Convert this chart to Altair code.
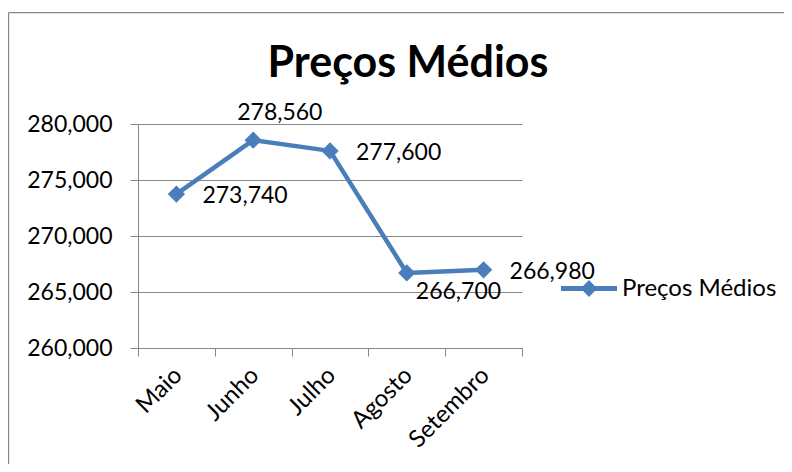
import altair as alt
import pandas as pd

months = ["Maio", "Junho", "Julho", "Agosto", "Setembro"]
values = [273740, 278560, 277600, 266700, 266980]
series_name = "Preços Médios"
title_text = "Preços Médios"
y_ticks = [260000, 265000, 270000, 275000, 280000]

BLUE = "#4A7EBB"
GREY = "#868686"
FONT = "Lato"

df = pd.DataFrame({"mes": months, "valor": values, "serie": [series_name] * len(months)})

x_enc = alt.X(
    "mes:N",
    sort=months,
    scale=alt.Scale(type="band", paddingInner=0, paddingOuter=0),
    axis=alt.Axis(
        title=None, labelAngle=-45, labelFont=FONT, labelFontSize=24, labelColor="black",
        tickBand="extent", tickSize=8, tickColor=GREY, domainColor=GREY, grid=False,
        labelPadding=7, labelOffset=-7,
    ),
)
y_enc = alt.Y(
    "valor:Q",
    scale=alt.Scale(domain=[260000, 280000], nice=False, zero=False),
    axis=alt.Axis(
        title=None, values=y_ticks, format=",d", labelFont=FONT, labelFontSize=23,
        labelColor="black", labelPadding=18, tickSize=8, tickColor=GREY,
        domainColor=GREY, gridColor=GREY, grid=True,
    ),
)

base = alt.Chart(df).encode(x=x_enc, y=y_enc)

line = base.mark_line(color=BLUE, strokeWidth=4.5, strokeJoin="round")

legend_path = ("M-1,-0.09L-0.21,-0.09L0,-0.3L0.21,-0.09L1,-0.09L1,0.09L0.21,0.09"
               "L0,0.3L-0.21,0.09L-1,0.09Z")
points = base.mark_point(shape="diamond", filled=True, size=300, opacity=1).encode(
    color=alt.Color(
        "serie:N",
        scale=alt.Scale(range=[BLUE]),
        legend=alt.Legend(
            title=None, orient="none", legendX=423, legendY=136.5, padding=0,
            symbolType=legend_path, symbolSize=3136, symbolStrokeWidth=0,
            symbolOpacity=1, labelFont=FONT, labelFontSize=24, labelColor="black",
            labelOffset=5, labelLimit=400,
        ),
    )
)

lbl_kw = dict(font=FONT, fontSize=23, color="black", align="left", baseline="middle")
txt = alt.Text("valor:Q", format=",d")
labels_right = base.mark_text(dx=26, dy=2, **lbl_kw).encode(text=txt).transform_filter(
    alt.FieldOneOfPredicate(field="mes", oneOf=["Maio", "Julho", "Setembro"])
)
labels_above = base.mark_text(dx=-16, dy=-27, **lbl_kw).encode(text=txt).transform_filter(
    alt.FieldEqualPredicate(field="mes", equal="Junho")
)
labels_below = base.mark_text(dx=9, dy=19, **lbl_kw).encode(text=txt).transform_filter(
    alt.FieldEqualPredicate(field="mes", equal="Agosto")
)

deco = pd.DataFrame({"t": [title_text]})
title = alt.Chart(deco).mark_text(
    font=FONT, fontSize=43, fontWeight="bold", color="black", align="center",
    baseline="alphabetic",
).encode(x=alt.value(270), y=alt.value(-47), text="t:N")

border_left = alt.Chart(deco).mark_rule(color=GREY, strokeWidth=1.3).encode(
    x=alt.value(-129.5), y=alt.value(-111.3), y2=alt.value(360)
)
border_top = alt.Chart(deco).mark_rule(color=GREY, strokeWidth=1.3).encode(
    x=alt.value(-129.5), x2=alt.value(700), y=alt.value(-111.3)
)

chart = alt.layer(
    border_left, border_top, title, line, points, labels_right, labels_above, labels_below
).properties(
    width=384, height=224,
    autosize=alt.AutoSizeParams(type="none"),
    padding={"left": 130, "top": 116, "right": 262, "bottom": 116},
    background="white",
).configure_view(stroke=None)

chart.save("out.html", embed_options={"renderer": "svg", "actions": False})
